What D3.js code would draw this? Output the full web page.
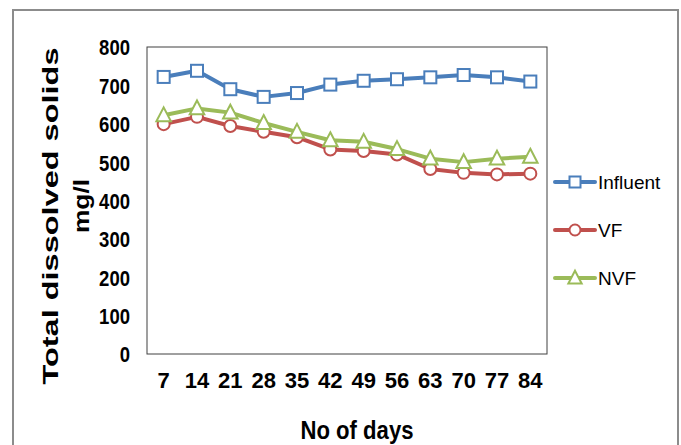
<!DOCTYPE html>
<html>
<head>
<meta charset="utf-8">
<script src="https://cdn.jsdelivr.net/npm/d3@7"></script>
<style>
    body { margin: 0; background: #ffffff; }
    svg { display: block; }
    .Tick { font-family: "Liberation Sans Narrow", "Arial Narrow", "Liberation Sans", Arial, sans-serif; font-weight: bold; fill: #000; }
    .Title { font-family: "Liberation Sans", Arial, sans-serif; font-weight: bold; fill: #000; }
    .Legend { font-family: "Liberation Sans Narrow", "Liberation Sans", Arial, sans-serif; fill: #000; }
</style>
</head>
<body>
<div class="Chart"></div>
<script>

const days = [7, 14, 21, 28, 35, 42, 49, 56, 63, 70, 77, 84];
const influent = [722, 738, 690, 670, 680, 702, 712, 716, 721, 727, 721, 710];
const vf = [599, 618, 594, 579, 565, 533, 529, 520, 482, 472, 468, 470];
const nvf = [622, 640, 629, 602, 579, 557, 553, 534, 509, 500, 509, 514];
const y_ticks = [0, 100, 200, 300, 400, 500, 600, 700, 800];

const series = [
    {name: "Influent", values: influent, color: "#4a7ebb", marker: "square"},
    {name: "VF", values: vf, color: "#c0504d", marker: "circle"},
    {name: "NVF", values: nvf, color: "#9bbb59", marker: "triangle"}
];

const width = 681;
const height = 445;
const plot = {left: 147, top: 47, right: 547, bottom: 354};

const svg = d3.select(".Chart").append("svg")
    .attr("width", width)
    .attr("height", height);

// outer frame (no bottom edge visible in the picture)
svg.append("path")
    .attr("d", "M13,445 L13,10 L678,10 L678,445")
    .attr("fill", "none")
    .attr("stroke", "#8c8c8c")
    .attr("stroke-width", 2);

const x = d3.scaleBand()
    .domain(days)
    .range([plot.left, plot.right]);

const y = d3.scaleLinear()
    .domain([0, 800])
    .range([plot.bottom, plot.top]);

svg.append("rect")
    .attr("x", plot.left)
    .attr("y", plot.top)
    .attr("width", plot.right - plot.left)
    .attr("height", plot.bottom - plot.top)
    .attr("fill", "none")
    .attr("stroke", "#404040")
    .attr("stroke-width", 1);

// y axis labels (narrow digits, as in the picture)
const y_axis = svg.append("g")
    .attr("transform", `translate(${plot.left - 17},0)`)
    .call(d3.axisLeft(y).tickValues(y_ticks).tickSize(0).tickPadding(0));
y_axis.select(".domain").remove();
y_axis.selectAll("text")
    .attr("class", "Tick")
    .attr("font-size", 22)
    .attr("font-family", null)
    .attr("dy", "0.36em")
    .attr("textLength", d => String(d).length * 10.3)
    .attr("lengthAdjust", "spacingAndGlyphs");

// x axis labels
const x_axis = svg.append("g")
    .attr("transform", "translate(0,372)")
    .call(d3.axisBottom(x).tickSize(0).tickPadding(0));
x_axis.select(".domain").remove();
x_axis.selectAll("text")
    .attr("class", "Tick")
    .attr("font-size", 22)
    .attr("font-family", null)
    .attr("dy", "0.73em");

// axis titles
svg.append("text")
    .attr("class", "Title")
    .attr("transform", "translate(58,216) rotate(-90)")
    .attr("text-anchor", "middle")
    .attr("font-size", 22)
    .attr("textLength", 337)
    .attr("lengthAdjust", "spacingAndGlyphs")
    .text("Total dissolved solids");

svg.append("text")
    .attr("class", "Title")
    .attr("transform", "translate(89,206) rotate(-90)")
    .attr("text-anchor", "middle")
    .attr("font-size", 22)
    .attr("textLength", 54)
    .attr("lengthAdjust", "spacingAndGlyphs")
    .text("mg/l");

svg.append("text")
    .attr("class", "Tick")
    .attr("x", 357)
    .attr("y", 439)
    .attr("text-anchor", "middle")
    .attr("font-size", 26)
    .attr("textLength", 113)
    .attr("lengthAdjust", "spacingAndGlyphs")
    .text("No of days");

const cx = d => x(d) + x.bandwidth() / 2;

const draw_marker = function (g, type, color, size) {
    if (type === "square") {
        g.append("rect")
            .attr("x", -size / 2).attr("y", -size / 2)
            .attr("width", size).attr("height", size);
    } else if (type === "circle") {
        g.append("circle").attr("r", size / 2);
    } else {
        const h = size * 1.1;
        g.append("path")
            .attr("d", `M0,${-h * 0.6} L${h * 0.55},${h * 0.45} L${-h * 0.55},${h * 0.45} Z`);
    }
    g.selectAll("*")
        .attr("fill", "#ffffff")
        .attr("stroke", color)
        .attr("stroke-width", 2);
};

const line = d3.line()
    .x((d, i) => cx(days[i]))
    .y(d => y(d));

series.forEach(s => {
    svg.append("path")
        .datum(s.values)
        .attr("d", line)
        .attr("fill", "none")
        .attr("stroke", s.color)
        .attr("stroke-width", 4)
        .attr("stroke-linejoin", "round");

    s.values.forEach((v, i) => {
        const g = svg.append("g")
            .attr("transform", `translate(${cx(days[i])},${y(v)})`);
        draw_marker(g, s.marker, s.color, 12);
    });
});

// legend
const legend_y = [182, 230, 278];
series.forEach((s, i) => {
    const g = svg.append("g").attr("transform", `translate(555,${legend_y[i]})`);
    g.append("line")
        .attr("x1", 0).attr("x2", 40)
        .attr("stroke", s.color)
        .attr("stroke-width", 4)
        .attr("stroke-linecap", "round");
    const m = g.append("g").attr("transform", "translate(20,0)");
    draw_marker(m, s.marker, s.color, 11);
    g.append("text")
        .attr("class", "Legend")
        .attr("x", 43)
        .attr("dy", "0.36em")
        .attr("font-size", 19)
        .text(s.name);
});

</script>
</body>
</html>
